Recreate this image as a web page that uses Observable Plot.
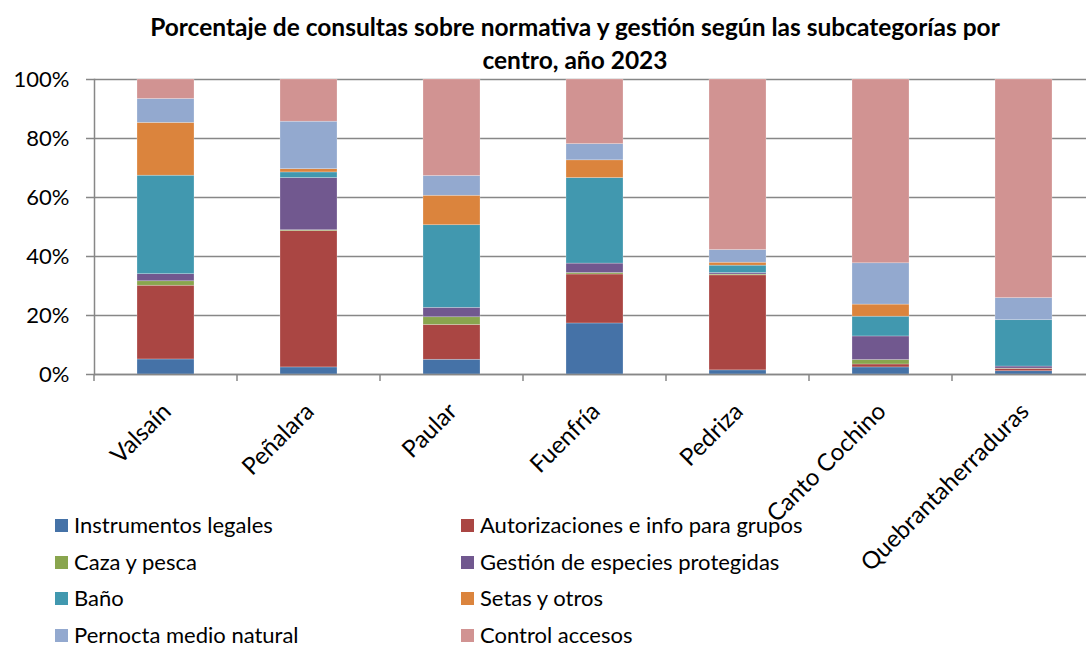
<!DOCTYPE html>
<html>
<head>
<meta charset="utf-8">
<script src="https://cdn.jsdelivr.net/npm/d3@7"></script>
<script src="https://cdn.jsdelivr.net/npm/@observablehq/plot@0.6"></script>
<style>
  body { margin: 0; background: white; }
  #wrap { position: relative; width: 1086px; height: 647px; overflow: hidden; font-family: Lato, "Liberation Sans", sans-serif; }
  #title { position: absolute; top: 10px; left: 75px; width: 1000px; text-align: center; font-weight: bold; font-size: 24.5px; line-height: 33px; color: #000; z-index: 2; }
  #chart { position: absolute; top: 0; left: 0; }
  .leg { position: absolute; font-size: 22px; line-height: 25px; height: 25px; color: #000; white-space: nowrap; display: flex; align-items: center; z-index: 2; }
  .leg span.sw { display: inline-block; width: 13px; height: 13px; margin-right: 6px; margin-top: 2px; }
</style>
</head>
<body>
<div id="wrap">
  <div id="title">Porcentaje de consultas sobre normativa y gestión según las subcategorías por<br>centro, año 2023</div>
  <div id="chart"></div>
  <div id="legend"></div>
</div>
<script>
const centros = ["Valsaín", "Peñalara", "Paular", "Fuenfría", "Pedriza", "Canto Cochino", "Quebrantaherraduras"];
const categorias = ["Instrumentos legales", "Autorizaciones e info para grupos", "Caza y pesca", "Gestión de especies protegidas", "Baño", "Setas y otros", "Pernocta medio natural", "Control accesos"];
const colores = ["#4572A7", "#AA4643", "#89A54E", "#71588F", "#4198AF", "#DB843D", "#93A9CF", "#D19392"];

// Percentages per centro (same order as centros)
const instrumentos   = [5.1, 2.4, 5.0, 17.3, 1.4, 2.4, 1.1];
const autorizaciones = [25.0, 46.2, 11.8, 16.6, 32.2, 1.0, 0.8];
const cazaPesca      = [1.5, 0.3, 2.6, 0.5, 0.3, 1.5, 0.1];
const gestion        = [2.4, 17.7, 3.2, 3.2, 0.5, 8.0, 0.7];
const bano           = [33.4, 1.9, 28.0, 29.0, 2.5, 6.7, 15.7];
const setas          = [17.9, 1.1, 10.0, 6.0, 1.0, 4.1, 0.0];
const pernocta       = [8.1, 16.1, 6.7, 5.5, 4.3, 14.0, 7.5];
const control        = [6.6, 14.3, 32.7, 21.9, 57.8, 62.3, 74.1];

const yTicks = [0, 0.2, 0.4, 0.6, 0.8, 1];

const series = [instrumentos, autorizaciones, cazaPesca, gestion, bano, setas, pernocta, control];
const data = [];
series.forEach((vals, i) => centros.forEach((c, j) => data.push({centro: c, categoria: categorias[i], valor: vals[j]})));

const gray = "#878787";

// boundary tick marks between categories, derived from the band scale
function boundaryTicks(index, scales, values, dimensions) {
  const x = scales.x, y = scales.y;
  const step = x.step(), bw = x.bandwidth();
  const g = d3.create("svg:g").attr("stroke", gray).attr("stroke-width", 1.5);
  const dom = x.domain();
  const bounds = dom.map(d => x(d) - (step - bw) / 2);
  bounds.push(x(dom[dom.length - 1]) + bw + (step - bw) / 2);
  const y0 = y(0);
  bounds.forEach(b => g.append("line").attr("x1", b).attr("x2", b).attr("y1", y0).attr("y2", y0 + 7));
  return g.node();
}

const plot = Plot.plot({
  width: 1086,
  height: 647,
  marginTop: 79,
  marginBottom: 273,
  marginLeft: 94,
  marginRight: -9,
  style: {fontFamily: "Lato, 'Liberation Sans', sans-serif", fontSize: "22px", color: "#000", background: "white", overflow: "visible"},
  x: {domain: centros, paddingInner: 0.6, paddingOuter: 0.3, label: null},
  y: {domain: [0, 1], label: null},
  color: {domain: categorias, range: colores},
  marks: [
    Plot.gridY(yTicks, {stroke: gray, strokeOpacity: 1, strokeWidth: 1.5}),
    Plot.barY(data, Plot.stackY({offset: "normalize"}, {x: "centro", y: "valor", fill: "categoria", stroke: "white", strokeOpacity: 0.4, strokeWidth: 0.6})),
    Plot.ruleY([0], {stroke: gray, strokeWidth: 1.5}),
    Plot.frame({anchor: "left", stroke: gray, strokeWidth: 1.5}),
    Plot.axisY(yTicks, {tickSize: 8, tickPadding: 17, tickFormat: d3.format(".0%"), fontSize: 22, stroke: gray, strokeWidth: 1.5}),
    boundaryTicks,
    Plot.axisX({ticks: [], label: null, tickSize: 0}),
    Plot.text(centros, {x: d => d, frameAnchor: "bottom", dy: 33, dx: 1, rotate: -45, textAnchor: "end", lineAnchor: "middle", fontSize: 24, fill: "#000"})
  ]
});
document.getElementById("chart").appendChild(plot);

// Legend (HTML, below/over the SVG)
const legend = document.getElementById("legend");
categorias.forEach((c, i) => {
  const col = i % 2, row = Math.floor(i / 2);
  const el = document.createElement("div");
  el.className = "leg";
  el.style.left = (col === 0 ? 55 : 461) + "px";
  el.style.top = (512 + row * 36.6) + "px";
  el.innerHTML = `<span class="sw" style="background:${colores[i]}"></span>${c}`;
  legend.appendChild(el);
});
</script>
</body>
</html>
